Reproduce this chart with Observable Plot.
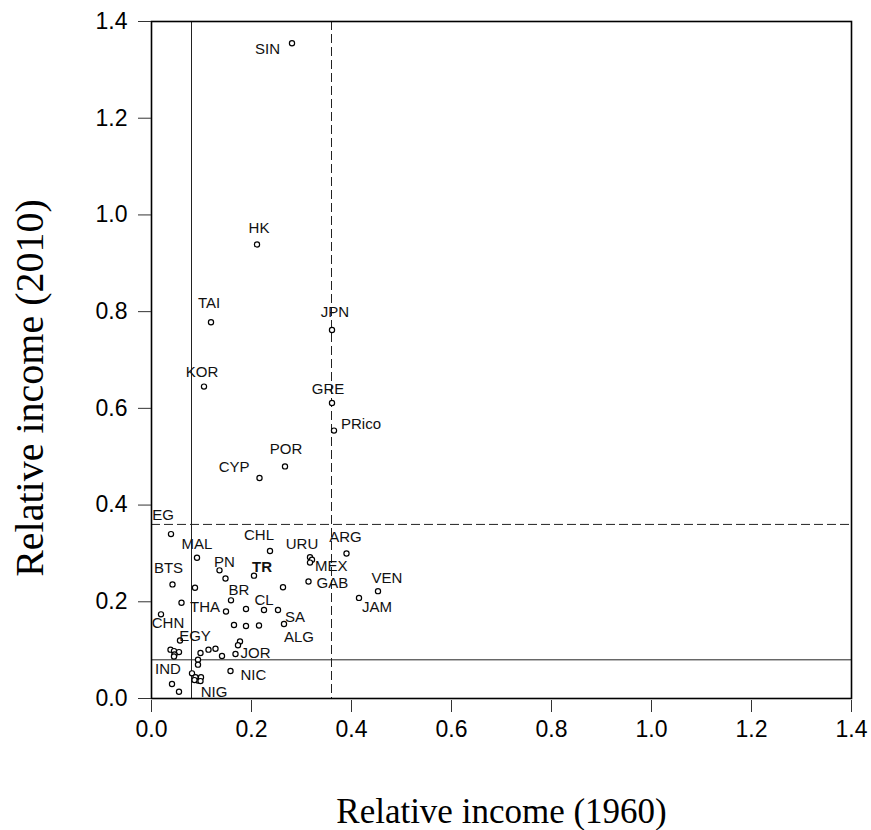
<!DOCTYPE html>
<html>
<head>
<meta charset="utf-8">
<script src="https://cdn.jsdelivr.net/npm/d3@7"></script>
<script src="https://cdn.jsdelivr.net/npm/@observablehq/plot@0.6"></script>
<style>
  body { margin: 0; background: #ffffff; }
  #chart svg { display: block; }
</style>
</head>
<body>
<div id="chart"></div>
<script>
// Country codes ("" = unlabeled economy)
const countries = [
  "SIN", "HK", "TAI", "KOR", "JPN", "GRE", "PRico", "POR", "CYP",
  "EG", "MAL", "CHL", "PN", "TR", "BTS", "BR", "CL", "THA", "SA", "CHN",
  "EGY", "ALG", "JOR", "IND", "NIC", "NIG", "URU", "MEX", "ARG", "GAB",
  "VEN", "JAM",
  "", "", "", "", "", "", "", "", "", "", "", "", "", "", "", "", "", "",
  "", "", "", "", "", "", "", "", "", ""
];
// Income relative to the US, 1960
const income1960 = [
  0.281, 0.211, 0.119, 0.105, 0.361, 0.361, 0.365, 0.267, 0.216,
  0.039, 0.091, 0.237, 0.148, 0.205, 0.042, 0.159, 0.225, 0.149, 0.265, 0.019,
  0.057, 0.215, 0.168, 0.041, 0.158, 0.093, 0.317, 0.321, 0.390, 0.314,
  0.453, 0.415,
  0.136, 0.087, 0.263, 0.060, 0.189, 0.253, 0.165, 0.189, 0.177, 0.173,
  0.038, 0.045, 0.055, 0.046, 0.045, 0.098, 0.114, 0.128, 0.141, 0.093,
  0.093, 0.081, 0.088, 0.099, 0.098, 0.086, 0.055, 0.317
];
// Income relative to the US, 2010
const income2010 = [
  1.355, 0.939, 0.778, 0.645, 0.762, 0.611, 0.554, 0.480, 0.456,
  0.340, 0.291, 0.305, 0.248, 0.254, 0.236, 0.203, 0.183, 0.180, 0.154, 0.174,
  0.120, 0.151, 0.092, 0.030, 0.057, 0.037, 0.292, 0.287, 0.300, 0.242,
  0.222, 0.208,
  0.265, 0.229, 0.230, 0.198, 0.185, 0.183, 0.152, 0.150, 0.118, 0.110,
  0.101, 0.098, 0.096, 0.091, 0.087, 0.094, 0.101, 0.103, 0.088, 0.080,
  0.070, 0.052, 0.044, 0.044, 0.036, 0.038, 0.014, 0.281
];
const tickValues = [0, 0.2, 0.4, 0.6, 0.8, 1.0, 1.2, 1.4];
const lowCut = 0.08;   // solid reference lines
const highCut = 0.36;  // dashed reference lines

// Label placement around each dot: [dx, dy, textAnchor]
const labelPlacement = {
  SIN: [-12, 6, "end"], HK: [2, -16, "middle"], TAI: [-2, -19, "middle"],
  KOR: [-2, -14, "middle"], JPN: [3, -18, "middle"], GRE: [-4, -14, "middle"],
  PRico: [7, -6, "start"], POR: [1, -17, "middle"], CYP: [-10, -11, "end"],
  EG: [-8, -19, "middle"], MAL: [0, -14, "middle"], CHL: [-11, -16, "middle"],
  PN: [-1, -16, "middle"], TR: [8, -8, "middle"], BTS: [-4, -16, "middle"],
  BR: [8, -10, "middle"], CL: [0, -10, "middle"], THA: [-6, -4, "end"],
  SA: [1, -7, "start"], CHN: [7, 9, "middle"], EGY: [15, -4, "middle"],
  ALG: [25, 12, "start"], JOR: [5, -1, "start"], IND: [-4, -15, "middle"],
  NIC: [10, 4, "start"], NIG: [16, 12, "middle"], URU: [-8, -13, "middle"],
  MEX: [3, 6, "start"], ARG: [-1, -16, "middle"], GAB: [8, 2, "start"],
  VEN: [9, -13, "middle"], JAM: [18, 9, "middle"]
};

const rows = countries.map((name, i) => ({name, x: income1960[i], y: income2010[i]}));

const labelMarks = rows
  .filter(d => d.name !== "")
  .map(d => {
    const [dx, dy, anchor] = labelPlacement[d.name];
    return Plot.text([d], {
      x: "x", y: "y", text: "name", dx, dy, textAnchor: anchor,
      lineAnchor: "middle", fontSize: 15, fill: "#111",
      fontWeight: d.name === "TR" ? "bold" : "normal"
    });
  });

const serif = "'Liberation Serif', 'Times New Roman', serif";

const chart = Plot.plot({
  width: 871,
  height: 830,
  marginLeft: 151,
  marginRight: 20,
  marginTop: 21,
  marginBottom: 132,
  style: {fontFamily: "'Liberation Sans', Arial, sans-serif", background: "#fff", color: "#000"},
  x: {domain: [0, 1.4]},
  y: {domain: [0, 1.4]},
  marks: [
    Plot.ruleX([lowCut], {stroke: "#222", strokeWidth: 1}),
    Plot.ruleY([lowCut], {stroke: "#222", strokeWidth: 1}),
    Plot.ruleX([highCut], {stroke: "#222", strokeWidth: 1, strokeDasharray: "9,4"}),
    Plot.ruleY([highCut], {stroke: "#222", strokeWidth: 1, strokeDasharray: "9,4"}),
    Plot.frame({stroke: "#000", strokeWidth: 1.6}),
    Plot.axisY({ticks: tickValues, tickFormat: d3.format(".1f"), tickSize: 13, tickPadding: 11, fontSize: 23, label: null, stroke: "#333"}),
    Plot.axisX({ticks: tickValues, tickFormat: d3.format(".1f"), tickSize: 12, tickPadding: 8, dy: 2, fontSize: 23, label: null, stroke: "#333"}),
    Plot.dot(rows, {x: "x", y: "y", r: 2.6, stroke: "#000", strokeWidth: 1.2, fill: "#fff"}),
    ...labelMarks,
    Plot.text(["Relative income (1960)"], {frameAnchor: "bottom", dy: 113, textAnchor: "middle", lineAnchor: "middle", fontFamily: serif, fontSize: 35, fill: "#000"}),
    Plot.text(["Relative income (2010)"], {frameAnchor: "left", dx: -121, dy: 28, rotate: -90, textAnchor: "middle", lineAnchor: "middle", fontFamily: serif, fontSize: 40, fill: "#000"})
  ]
});

document.getElementById("chart").appendChild(chart);
</script>
</body>
</html>
